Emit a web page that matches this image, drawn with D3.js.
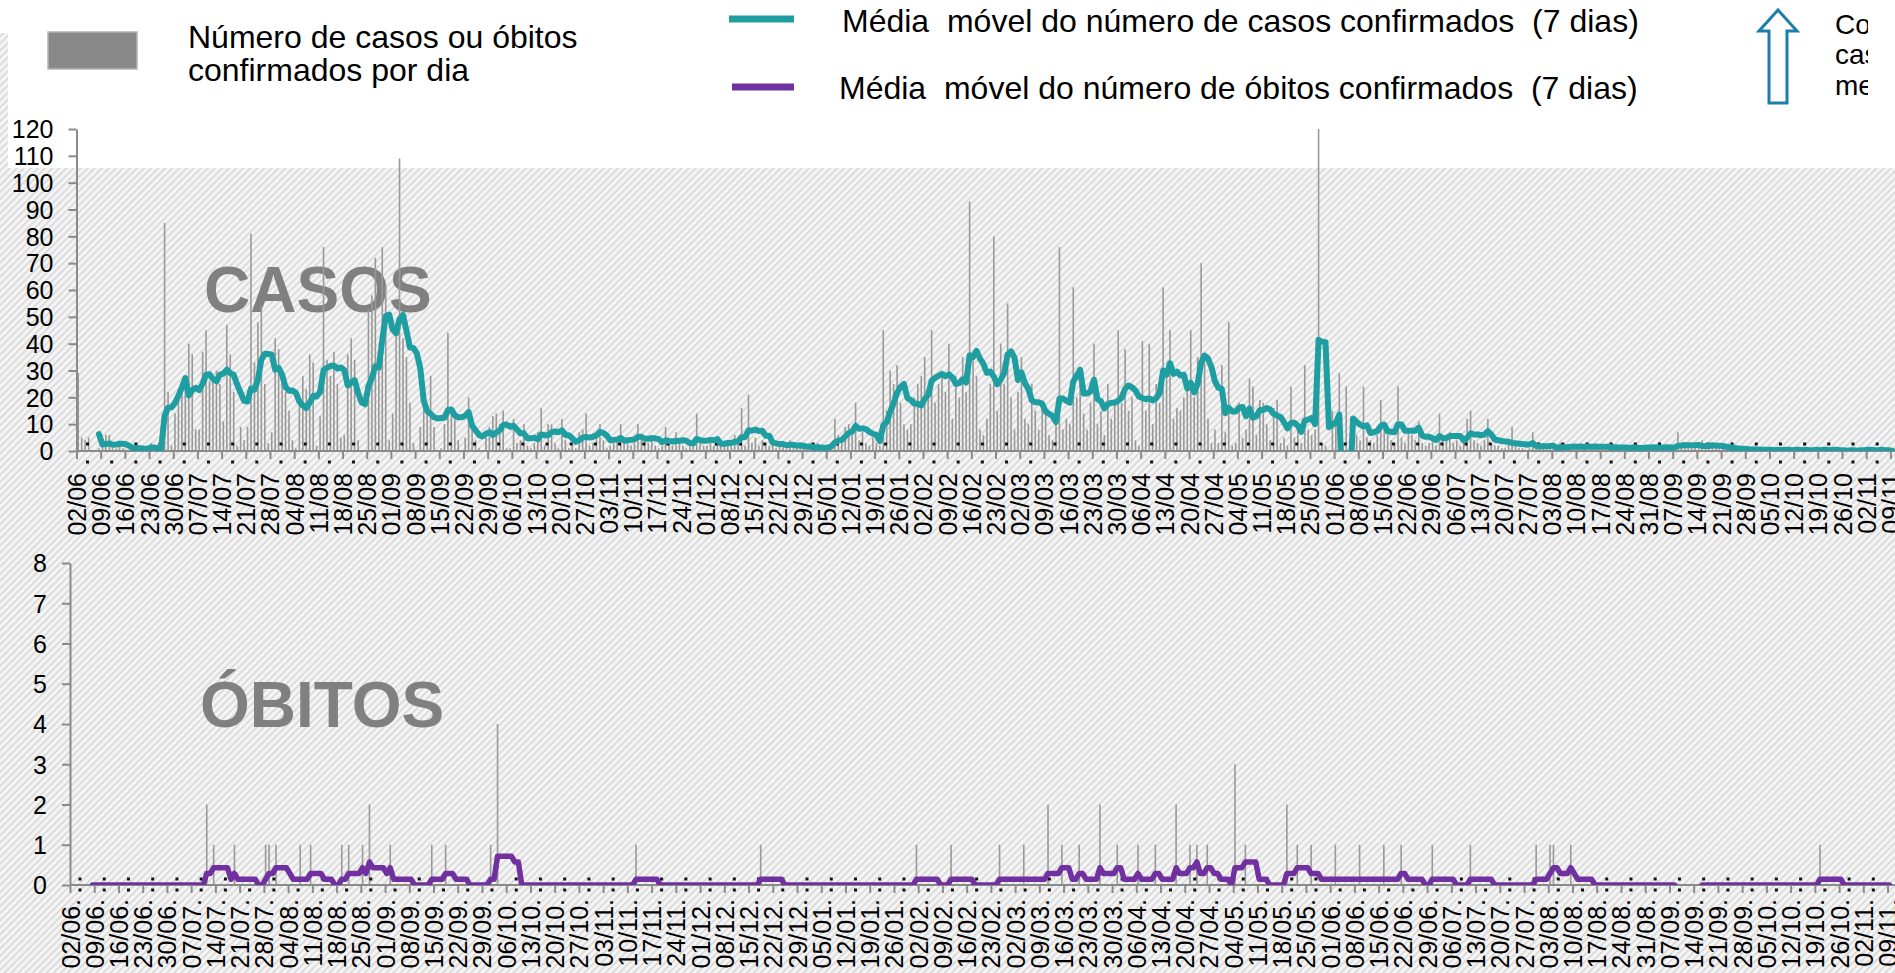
<!DOCTYPE html>
<html>
<head>
<meta charset="utf-8">
<script src="https://cdn.jsdelivr.net/npm/d3@7"></script>
<style>
  html, body { margin: 0; padding: 0; background: #fff; overflow: hidden; }
  svg { display: block; font-family: "Liberation Sans", Arial, Helvetica, sans-serif; }
  .pre { white-space: pre; }
</style>
</head>
<body>
<svg id="chart" width="1895" height="973"></svg>
<script>
// Daily confirmed cases, one row per week (weeks start on Tuesday, 02/06/2020)
const dailyCases = [
  29,5,4,5,0,0,1,
  2,6,6,1,1,2,1,
  0,1,2,1,0,1,1,
  3,1,0,1,85,22,2,
  14,20,22,25,40,36,8,
  8,37,45,26,28,30,25,
  11,47,36,22,2,9,4,
  9,81,33,48,54,25,3,
  7,42,38,30,22,15,4,
  1,19,28,23,36,33,2,
  13,76,34,28,37,25,5,
  6,36,42,34,4,0,0,
  53,58,72,31,76,62,4,
  14,48,109,42,35,18,3,
  0,9,24,15,28,9,0,
  1,10,44,16,13,4,0,
  5,20,8,4,1,0,7,
  9,13,14,10,15,1,1,
  12,3,4,10,2,1,3,
  7,16,2,10,10,3,1,
  12,4,1,2,1,7,8,
  14,2,3,6,10,4,1,
  2,3,4,10,3,5,2,
  3,10,4,5,3,6,2,
  1,2,9,3,2,7,3,
  2,1,3,2,14,3,2,
  2,3,2,5,2,3,4,
  2,6,3,16,2,21,3,
  5,2,4,3,2,3,1,
  3,2,1,4,2,1,2,
  1,0,2,1,3,0,1,
  2,3,12,6,5,9,10,
  6,18,4,7,3,2,5,
  3,2,45,15,30,25,32,
  18,10,8,10,20,25,28,
  35,20,45,18,25,30,22,
  40,12,28,20,35,22,93,
  35,28,8,6,12,25,80,
  15,40,25,55,20,8,22,
  35,12,10,25,15,8,18,
  15,6,4,10,76,8,12,
  10,61,20,25,14,8,18,
  40,10,15,6,25,12,18,
  45,18,38,15,20,4,2,
  41,15,40,10,25,18,61,
  30,45,12,16,15,20,25,
  45,20,35,70,34,12,3,
  8,3,32,7,48,2,3,
  18,5,8,27,24,6,19,
  18,10,4,16,19,3,5,
  2,24,5,8,3,32,8,
  6,8,225,3,2,-190,15,
  11,29,2,24,1,3,6,
  4,24,5,4,3,6,19,
  8,6,4,3,24,5,3,
  8,6,4,11,3,2,3,
  4,2,14,5,4,7,3,
  4,2,3,12,15,4,3,
  2,4,12,3,2,2,1,
  1,3,9,2,1,1,0,
  1,7,1,1,2,0,1,
  2,1,3,1,2,1,2,
  1,2,1,3,1,2,1,
  1,2,1,1,2,1,1,
  1,1,2,1,1,1,2,
  1,2,1,1,1,2,1,
  1,7,1,2,1,2,1,
  2,4,1,2,3,1,1,
  1,2,0,1,1,0,1,
  0,1,0,1,0,0,1,
  0,0,1,0,1,0,0,
  1,0,0,1,0,0,1,
  0,1,0,0,1,0,0,
  0,0,1,0,0,1,0,
  1,0,0,0,1,0,0,
  0
];

// Daily confirmed deaths, same calendar
const dailyDeaths = [
  0,0,0,0,0,0,0,
  0,0,0,0,0,0,0,
  0,0,0,0,0,0,0,
  0,0,0,0,0,0,0,
  0,0,0,0,0,0,0,
  0,0,0,0,2,0,1,
  0,0,0,0,0,1,0,
  0,0,0,0,0,0,0,
  1,1,0,1,0,0,0,
  0,0,0,1,0,0,1,
  0,0,0,0,0,0,0,
  0,1,0,1,0,0,0,
  1,0,2,0,0,0,0,
  0,1,0,0,0,0,0,
  0,0,0,0,0,0,1,
  0,0,0,1,0,0,0,
  0,0,0,0,0,0,0,
  0,0,1,0,4,0,0,
  0,0,0,0,0,0,0,
  0,0,0,0,0,0,0,
  0,0,0,0,0,0,0,
  0,0,0,0,0,0,0,
  0,0,0,0,0,0,0,
  0,0,1,0,0,0,0,
  0,0,0,0,0,0,0,
  0,0,0,0,0,0,0,
  0,0,0,0,0,0,0,
  0,0,0,0,0,0,0,
  0,0,0,1,0,0,0,
  0,0,0,0,0,0,0,
  0,0,0,0,0,0,0,
  0,0,0,0,0,0,0,
  0,0,0,0,0,0,0,
  0,0,0,0,0,0,0,
  0,0,0,0,0,0,1,
  0,0,0,0,0,0,0,
  0,0,1,0,0,0,0,
  0,0,0,0,0,0,0,
  0,0,1,0,0,0,0,
  0,0,1,0,0,0,0,
  0,0,2,0,0,0,1,
  0,0,0,0,1,0,0,
  0,0,0,2,0,0,0,
  0,1,0,0,0,0,0,
  1,0,0,0,0,1,0,
  0,0,0,0,2,0,0,
  0,1,0,1,0,0,1,
  0,0,0,0,0,0,0,
  3,0,0,1,0,0,0,
  0,0,0,0,0,0,0,
  0,2,0,0,1,0,0,
  0,1,0,0,0,0,0,
  0,1,0,0,0,0,0,
  0,1,0,0,0,0,0,
  0,1,0,0,0,0,1,
  0,0,0,0,0,0,0,
  0,1,0,0,0,0,0,
  0,0,0,0,0,1,0,
  0,0,0,0,0,0,0,
  0,0,0,0,0,0,0,
  0,0,0,1,0,0,0,
  1,1,0,0,0,0,1,
  0,0,0,0,0,0,0,
  0,0,0,0,0,0,0,
  0,0,0,0,0,0,0,
  0,0,0,0,0,0,0,
  0,0,-1,0,0,0,0,
  0,0,0,0,0,0,0,
  0,0,0,0,0,0,0,
  0,0,0,0,0,0,0,
  0,0,0,0,0,0,0,
  0,0,0,0,0,0,0,
  0,1,0,0,0,0,0,
  0,0,0,0,0,0,0,
  0,0,0,0,0,0,0,
  0
];

// Weekly category labels
const weekLabels = ["02/06","09/06","16/06","23/06","30/06","07/07","14/07","21/07","28/07","04/08",
  "11/08","18/08","25/08","01/09","08/09","15/09","22/09","29/09","06/10","13/10","20/10","27/10",
  "03/11","10/11","17/11","24/11","01/12","08/12","15/12","22/12","29/12","05/01","12/01","19/01",
  "26/01","02/02","09/02","16/02","23/02","02/03","09/03","16/03","23/03","30/03","06/04","13/04",
  "20/04","27/04","04/05","11/05","18/05","25/05","01/06","08/06","15/06","22/06","29/06","06/07",
  "13/07","20/07","27/07","03/08","10/08","17/08","24/08","31/08","07/09","14/09","21/09","28/09",
  "05/10","12/10","19/10","26/10","02/11","09/11"];

const casesTicks = [0,10,20,30,40,50,60,70,80,90,100,110,120];
const deathsTicks = [0,1,2,3,4,5,6,7,8];

const W = 1895, H = 973;
const svg = d3.select("#chart");
const defs = svg.append("defs");

// light diagonal hatch used as the slide background
const pat = defs.append("pattern").attr("id", "hatch")
  .attr("patternUnits", "userSpaceOnUse").attr("width", 5).attr("height", 5)
  .attr("patternTransform", "rotate(45)");
pat.append("rect").attr("width", 5).attr("height", 5).attr("fill", "#f5f5f5");
pat.append("rect").attr("width", 1.7).attr("height", 5).attr("fill", "#d8d8d8");

svg.append("rect").attr("width", W).attr("height", H).attr("fill", "url(#hatch)");
svg.append("rect").attr("x", 0).attr("y", 0).attr("width", W).attr("height", 33).attr("fill", "#fff");
svg.append("rect").attr("x", 8).attr("y", 0).attr("width", W - 8).attr("height", 168).attr("fill", "#fff");

// trailing 7-day moving average
function movingAverage(arr) {
  return arr.map((v, i) => i < 6 ? null : d3.mean(arr.slice(i - 6, i + 1)));
}

const AXIS = "#8a8a8a";
const BAR = "#999999";

function panel(o) {
  const n = o.values.length;
  const x = d3.scaleBand().domain(d3.range(n)).range([o.x0, o.x0 + n * o.step]);
  const xl = d3.scaleLinear().domain([0, n]).range([o.x0, o.x0 + n * o.step]);
  const y = d3.scaleLinear().domain([0, o.yMax]).range([o.y0, o.yTop]);
  const bw = x.bandwidth();
  const g = svg.append("g");

  const clipId = "clip-" + o.id;
  defs.append("clipPath").attr("id", clipId).append("rect")
    .attr("x", o.x0).attr("y", o.yTop).attr("width", W - o.x0).attr("height", o.y0 - o.yTop);

  // big panel title
  g.append("text").attr("x", o.titleX).attr("y", o.titleY)
    .attr("font-size", 64).attr("font-weight", "bold").attr("fill", "#808080")
    .text(o.title);

  // daily bars
  g.append("g").attr("clip-path", `url(#${clipId})`)
    .selectAll("rect").data(o.values).join("rect")
    .attr("x", (d, i) => x(i) + bw / 2 - 0.8)
    .attr("width", 1.6)
    .attr("y", d => y(Math.max(0, Math.min(d, o.yMax))))
    .attr("height", d => y(0) - y(Math.max(0, Math.min(d, o.yMax))))
    .attr("fill", BAR);

  // y axis
  const ya = g.append("g").attr("transform", `translate(${o.x0},0)`)
    .call(d3.axisLeft(y).tickValues(o.yTicks).tickSize(8).tickSizeOuter(0).tickPadding(15));
  ya.select(".domain").attr("stroke", AXIS).attr("stroke-width", 2);
  ya.selectAll(".tick line").attr("stroke", AXIS).attr("stroke-width", 2);
  ya.selectAll(".tick text").attr("font-size", 25).attr("fill", "#000")
    .attr("font-family", "Liberation Sans, Arial, sans-serif").attr("dy", "0.35em");

  // x axis with weekly ticks
  const weekIdx = d3.range(0, n, 7);
  const xa = g.append("g").attr("transform", `translate(0,${o.y0})`)
    .call(d3.axisBottom(xl).tickValues(weekIdx).tickSize(8).tickSizeOuter(0)
      .tickFormat((d, i) => o.labels[i] + o.suffix));
  xa.select(".domain").attr("d", `M${o.x0},0H${W}`).attr("stroke", AXIS).attr("stroke-width", 2);
  xa.selectAll(".tick line").attr("stroke", AXIS).attr("stroke-width", 2);
  xa.selectAll(".tick text")
    .attr("font-size", 25).attr("fill", "#000")
    .attr("font-family", "Liberation Sans, Arial, sans-serif")
    .attr("transform", "rotate(-90)")
    .attr("x", -o.labelGap).attr("y", 0).attr("dy", "0.36em")
    .attr("text-anchor", "end");

  // small marker pairs beside each weekly tick
  const marks = g.append("g").attr("fill", "#111");
  weekIdx.forEach(i => {
    o.dotY.forEach(dy => {
      marks.append("rect").attr("x", xl(i) + o.dotDx - 1.5).attr("y", o.y0 + dy - 1.5)
        .attr("width", 3).attr("height", 3);
    });
  });

  // 7-day moving average
  const ma = movingAverage(o.values);
  const line = d3.line()
    .defined(d => d !== null)
    .x((d, i) => x(i) + bw / 2)
    .y(d => y(d));
  g.append("path").datum(ma)
    .attr("clip-path", `url(#${clipId})`)
    .attr("d", line)
    .attr("fill", "none").attr("stroke", o.color).attr("stroke-width", o.lineWidth)
    .attr("stroke-linejoin", "round").attr("stroke-linecap", "round");
}

panel({
  id: "casos", values: dailyCases, x0: 76.5, step: 3.455, y0: 451, yTop: 129, yMax: 120,
  yTicks: casesTicks, labels: weekLabels, suffix: "", labelGap: 22,
  dotDx: 11, dotY: [-7, 11], color: "#1f9ea1", lineWidth: 6,
  title: "CASOS", titleX: 204, titleY: 312
});

panel({
  id: "obitos", values: dailyDeaths, x0: 70, step: 3.462, y0: 885, yTop: 563, yMax: 8,
  yTicks: deathsTicks, labels: weekLabels, suffix: ".", labelGap: 14,
  dotDx: 10, dotY: [-6, 5], color: "#7030a0", lineWidth: 5.5,
  title: "ÓBITOS", titleX: 200, titleY: 727
});

// legend
const lg = svg.append("g").attr("font-size", 32).attr("fill", "#000");
lg.append("rect").attr("x", 48).attr("y", 32).attr("width", 89).attr("height", 37)
  .attr("fill", "#898989").attr("stroke", "#b4b4b4").attr("stroke-width", 1.5);
lg.append("text").attr("x", 188).attr("y", 48).text("Número de casos ou óbitos");
lg.append("text").attr("x", 188).attr("y", 81).text("confirmados por dia");

lg.append("line").attr("x1", 729).attr("x2", 794).attr("y1", 19).attr("y2", 19)
  .attr("stroke", "#1f9ea1").attr("stroke-width", 7);
lg.append("text").attr("class", "pre").attr("x", 842).attr("y", 32)
  .text("Média  móvel do número de casos confirmados  (7 dias)");
lg.append("line").attr("x1", 732).attr("x2", 794).attr("y1", 87).attr("y2", 87)
  .attr("stroke", "#7030a0").attr("stroke-width", 7);
lg.append("text").attr("class", "pre").attr("x", 839).attr("y", 99)
  .text("Média  móvel do número de óbitos confirmados  (7 dias)");

// outlined arrow and its note (the note box is narrow and crops its text)
svg.append("path")
  .attr("d", "M1778,10 L1797,31 L1787,31 L1787,103 L1769,103 L1769,31 L1759,31 Z")
  .attr("fill", "#fff").attr("stroke", "#1e7eab").attr("stroke-width", 3)
  .attr("stroke-linejoin", "miter");
defs.append("clipPath").attr("id", "note-box").append("rect")
  .attr("x", 1825).attr("y", 0).attr("width", 43).attr("height", 120);
const note = svg.append("g").attr("font-size", 28).attr("fill", "#000")
  .attr("clip-path", "url(#note-box)");
note.append("text").attr("x", 1835).attr("y", 34).text("Correção de");
note.append("text").attr("x", 1835).attr("y", 64).text("casos dos");
note.append("text").attr("x", 1835).attr("y", 95).text("meses anteriores");
</script>
</body>
</html>
